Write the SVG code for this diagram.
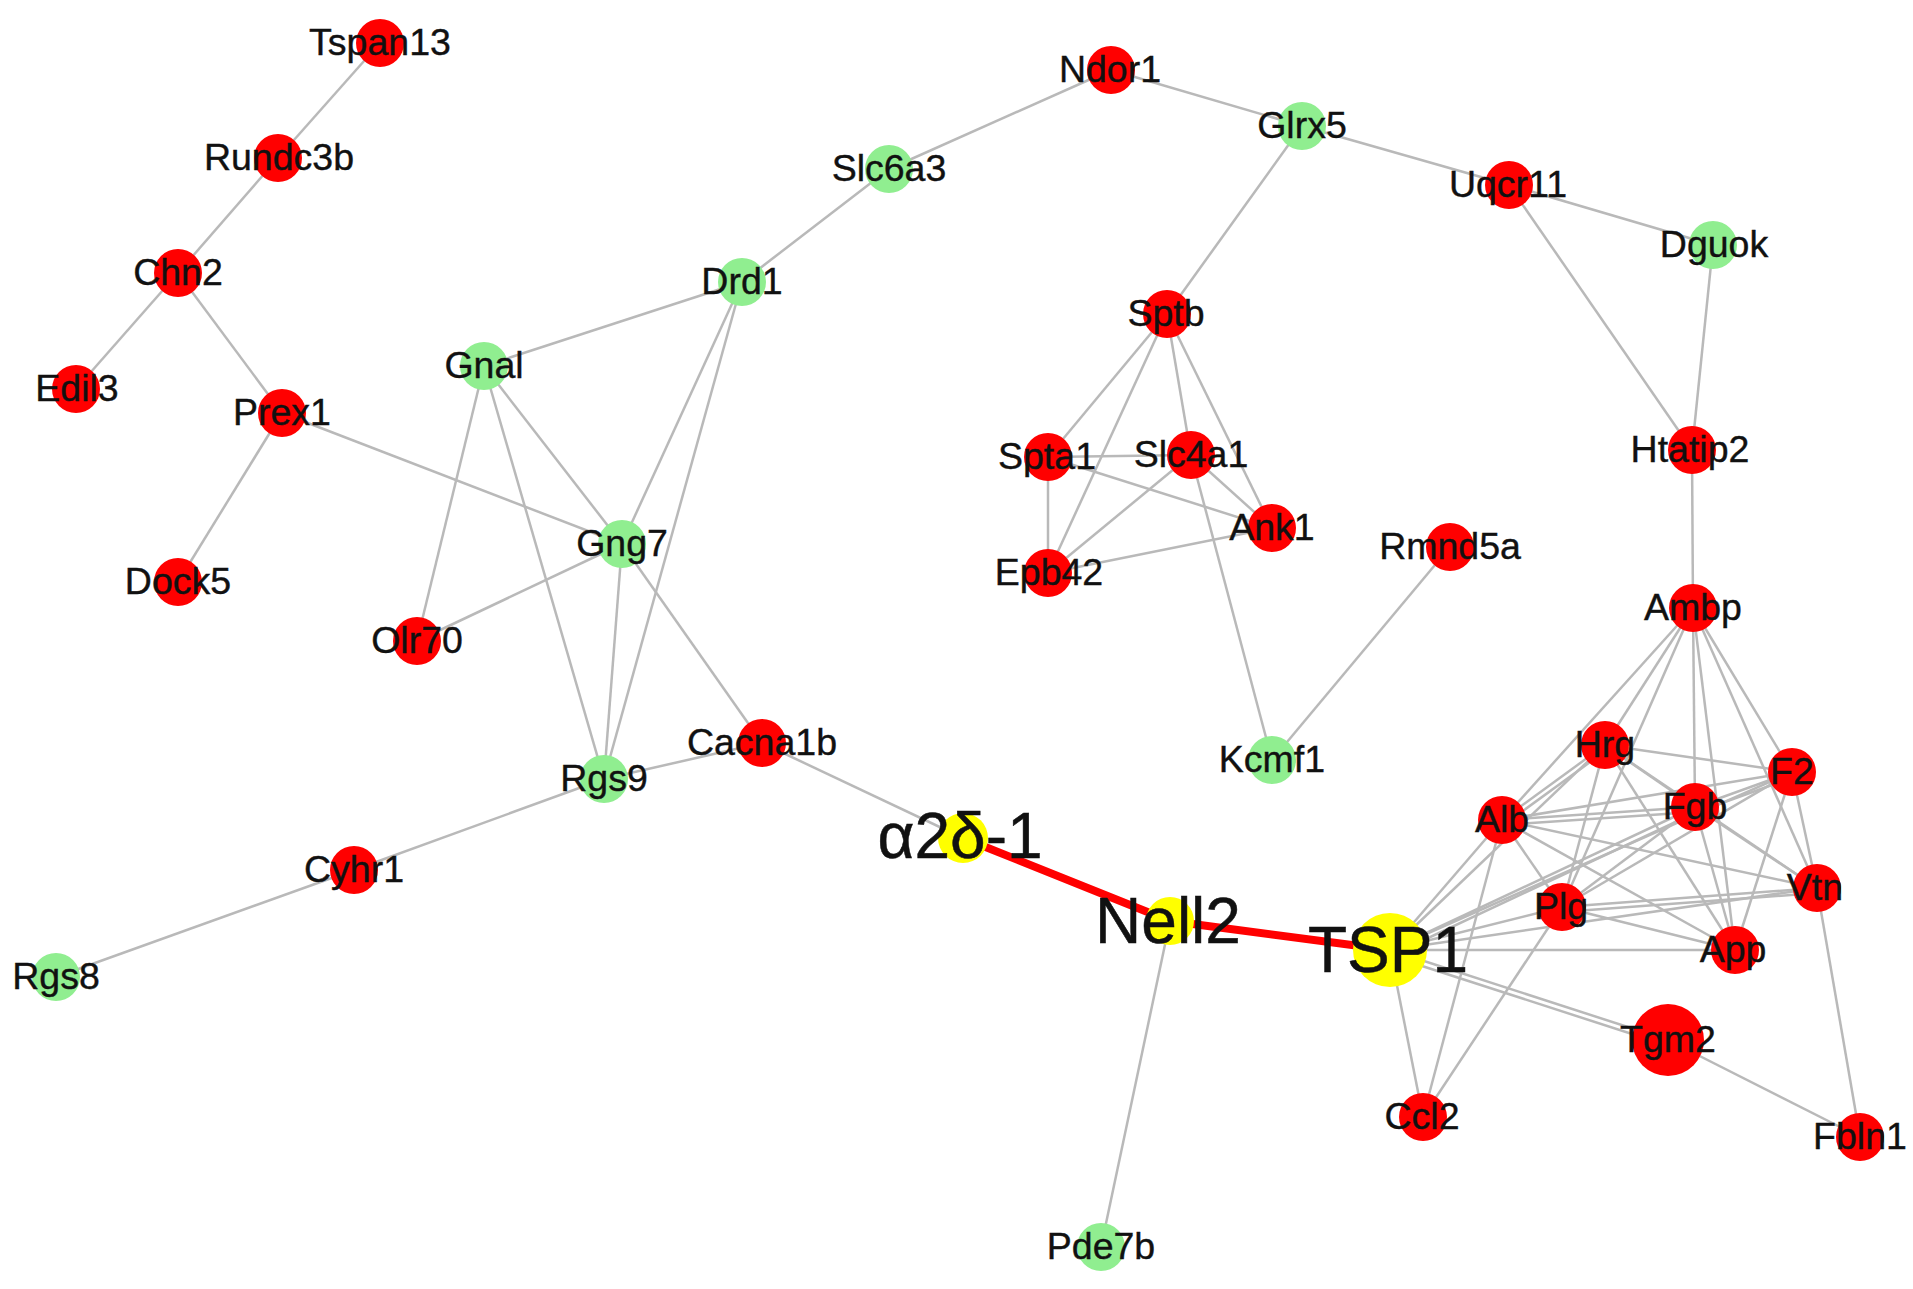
<svg xmlns="http://www.w3.org/2000/svg" width="1913" height="1289" viewBox="0 0 1913 1289">
<style>
.e{stroke:#b9b9b9;stroke-width:2.5;fill:none}
.hl{stroke:#ff0000;stroke-width:8;fill:none;stroke-linecap:round}
.r{fill:#ff0000}
.g{fill:#90ee90}
.y{fill:#ffff00}
text{font-family:"Liberation Sans",Arial,sans-serif;font-size:37.5px;fill:#111;stroke:#111;stroke-width:0.4;text-anchor:middle}
text.big{font-size:64px;stroke-width:0.5}
</style>
<rect width="1913" height="1289" fill="#ffffff"/>
<g id="connectors">
<line class="e" x1="380" y1="43" x2="278" y2="158"/>
<line class="e" x1="278" y1="158" x2="178" y2="273"/>
<line class="e" x1="178" y1="273" x2="76" y2="389"/>
<line class="e" x1="178" y1="273" x2="282" y2="413"/>
<line class="e" x1="282" y1="413" x2="178" y2="582"/>
<line class="e" x1="282" y1="413" x2="622" y2="544"/>
<line class="e" x1="484" y1="366" x2="742" y2="282"/>
<line class="e" x1="484" y1="366" x2="417" y2="641"/>
<line class="e" x1="484" y1="366" x2="622" y2="544"/>
<line class="e" x1="484" y1="366" x2="604" y2="779"/>
<line class="e" x1="742" y1="282" x2="889" y2="169"/>
<line class="e" x1="889" y1="169" x2="1111" y2="70"/>
<line class="e" x1="1111" y1="70" x2="1302" y2="126"/>
<line class="e" x1="1302" y1="126" x2="1509" y2="185"/>
<line class="e" x1="1302" y1="126" x2="1167" y2="314"/>
<line class="e" x1="1509" y1="185" x2="1713" y2="245"/>
<line class="e" x1="1509" y1="185" x2="1692" y2="450"/>
<line class="e" x1="1713" y1="245" x2="1692" y2="450"/>
<line class="e" x1="1692" y1="450" x2="1693" y2="608"/>
<line class="e" x1="742" y1="282" x2="622" y2="544"/>
<line class="e" x1="742" y1="282" x2="604" y2="779"/>
<line class="e" x1="622" y1="544" x2="417" y2="641"/>
<line class="e" x1="622" y1="544" x2="604" y2="779"/>
<line class="e" x1="622" y1="544" x2="762" y2="743"/>
<line class="e" x1="604" y1="779" x2="762" y2="743"/>
<line class="e" x1="604" y1="779" x2="354" y2="870"/>
<line class="e" x1="354" y1="870" x2="56" y2="977"/>
<line class="e" x1="762" y1="743" x2="963" y2="838"/>
<line class="e" x1="1170" y1="921" x2="1101" y2="1247"/>
<line class="e" x1="1167" y1="314" x2="1048" y2="457"/>
<line class="e" x1="1167" y1="314" x2="1191" y2="455"/>
<line class="e" x1="1167" y1="314" x2="1272" y2="528"/>
<line class="e" x1="1167" y1="314" x2="1048" y2="573"/>
<line class="e" x1="1048" y1="457" x2="1191" y2="455"/>
<line class="e" x1="1048" y1="457" x2="1048" y2="573"/>
<line class="e" x1="1048" y1="457" x2="1272" y2="528"/>
<line class="e" x1="1191" y1="455" x2="1048" y2="573"/>
<line class="e" x1="1191" y1="455" x2="1272" y2="528"/>
<line class="e" x1="1048" y1="573" x2="1272" y2="528"/>
<line class="e" x1="1191" y1="455" x2="1272" y2="760"/>
<line class="e" x1="1272" y1="760" x2="1450" y2="547"/>
<line class="e" x1="1693" y1="608" x2="1605" y2="745"/>
<line class="e" x1="1693" y1="608" x2="1502" y2="820"/>
<line class="e" x1="1693" y1="608" x2="1562" y2="907"/>
<line class="e" x1="1693" y1="608" x2="1695" y2="807"/>
<line class="e" x1="1693" y1="608" x2="1735" y2="950"/>
<line class="e" x1="1693" y1="608" x2="1792" y2="772"/>
<line class="e" x1="1693" y1="608" x2="1817" y2="888"/>
<line class="e" x1="1605" y1="745" x2="1502" y2="820"/>
<line class="e" x1="1608" y1="749" x2="1505" y2="824"/>
<line class="e" x1="1605" y1="745" x2="1792" y2="772"/>
<line class="e" x1="1605" y1="745" x2="1695" y2="807"/>
<line class="e" x1="1605" y1="745" x2="1562" y2="907"/>
<line class="e" x1="1605" y1="745" x2="1735" y2="950"/>
<line class="e" x1="1605" y1="745" x2="1390" y2="950"/>
<line class="e" x1="1605" y1="745" x2="1817" y2="888"/>
<line class="e" x1="1502" y1="820" x2="1695" y2="807"/>
<line class="e" x1="1502" y1="825" x2="1695" y2="812"/>
<line class="e" x1="1502" y1="820" x2="1792" y2="772"/>
<line class="e" x1="1502" y1="820" x2="1817" y2="888"/>
<line class="e" x1="1502" y1="820" x2="1735" y2="950"/>
<line class="e" x1="1502" y1="820" x2="1562" y2="907"/>
<line class="e" x1="1502" y1="820" x2="1390" y2="950"/>
<line class="e" x1="1502" y1="820" x2="1423" y2="1117"/>
<line class="e" x1="1695" y1="807" x2="1792" y2="772"/>
<line class="e" x1="1697" y1="812" x2="1794" y2="777"/>
<line class="e" x1="1695" y1="807" x2="1562" y2="907"/>
<line class="e" x1="1695" y1="807" x2="1390" y2="950"/>
<line class="e" x1="1697" y1="812" x2="1392" y2="955"/>
<line class="e" x1="1695" y1="807" x2="1735" y2="950"/>
<line class="e" x1="1695" y1="807" x2="1817" y2="888"/>
<line class="e" x1="1792" y1="772" x2="1562" y2="907"/>
<line class="e" x1="1792" y1="772" x2="1390" y2="950"/>
<line class="e" x1="1792" y1="772" x2="1817" y2="888"/>
<line class="e" x1="1792" y1="772" x2="1735" y2="950"/>
<line class="e" x1="1562" y1="907" x2="1817" y2="888"/>
<line class="e" x1="1562" y1="912" x2="1817" y2="893"/>
<line class="e" x1="1562" y1="907" x2="1735" y2="950"/>
<line class="e" x1="1562" y1="907" x2="1390" y2="950"/>
<line class="e" x1="1562" y1="907" x2="1423" y2="1117"/>
<line class="e" x1="1817" y1="888" x2="1390" y2="950"/>
<line class="e" x1="1817" y1="888" x2="1860" y2="1137"/>
<line class="e" x1="1735" y1="950" x2="1390" y2="950"/>
<line class="e" x1="1390" y1="950" x2="1668" y2="1040"/>
<line class="e" x1="1388" y1="955" x2="1666" y2="1045"/>
<line class="e" x1="1390" y1="950" x2="1423" y2="1117"/>
<line class="e" x1="1668" y1="1040" x2="1860" y2="1137"/>
<line class="hl" x1="963" y1="838" x2="1170" y2="921"/>
<line class="hl" x1="1170" y1="921" x2="1390" y2="950"/>
</g>
<g id="node-Tspan13"><circle class="r" cx="380" cy="43" r="24"/><text x="380" y="55">Tspan13</text></g>
<g id="node-Rundc3b"><circle class="r" cx="278" cy="158" r="24"/><text x="279" y="170">Rundc3b</text></g>
<g id="node-Chn2"><circle class="r" cx="178" cy="273" r="24"/><text x="178" y="285">Chn2</text></g>
<g id="node-Edil3"><circle class="r" cx="76" cy="389" r="24"/><text x="77" y="401">Edil3</text></g>
<g id="node-Prex1"><circle class="r" cx="282" cy="413" r="24"/><text x="282" y="425">Prex1</text></g>
<g id="node-Dock5"><circle class="r" cx="178" cy="582" r="24"/><text x="178" y="594">Dock5</text></g>
<g id="node-Gnal"><circle class="g" cx="484" cy="366" r="24"/><text x="484" y="378">Gnal</text></g>
<g id="node-Drd1"><circle class="g" cx="742" cy="282" r="24"/><text x="742" y="294">Drd1</text></g>
<g id="node-Slc6a3"><circle class="g" cx="889" cy="169" r="24"/><text x="889" y="181">Slc6a3</text></g>
<g id="node-Ndor1"><circle class="r" cx="1111" cy="70" r="24"/><text x="1110" y="82">Ndor1</text></g>
<g id="node-Glrx5"><circle class="g" cx="1302" cy="126" r="24"/><text x="1302" y="138">Glrx5</text></g>
<g id="node-Uqcr11"><circle class="r" cx="1509" cy="185" r="24"/><text x="1508" y="197">Uqcr11</text></g>
<g id="node-Dguok"><circle class="g" cx="1713" cy="245" r="24"/><text x="1714" y="257">Dguok</text></g>
<g id="node-Sptb"><circle class="r" cx="1167" cy="314" r="24"/><text x="1166" y="326">Sptb</text></g>
<g id="node-Spta1"><circle class="r" cx="1048" cy="457" r="24"/><text x="1047" y="469">Spta1</text></g>
<g id="node-Slc4a1"><circle class="r" cx="1191" cy="455" r="24"/><text x="1191" y="467">Slc4a1</text></g>
<g id="node-Ank1"><circle class="r" cx="1272" cy="528" r="24"/><text x="1272" y="540">Ank1</text></g>
<g id="node-Epb42"><circle class="r" cx="1048" cy="573" r="24"/><text x="1049" y="585">Epb42</text></g>
<g id="node-Rmnd5a"><circle class="r" cx="1450" cy="547" r="24"/><text x="1450" y="559">Rmnd5a</text></g>
<g id="node-Kcmf1"><circle class="g" cx="1272" cy="760" r="24"/><text x="1272" y="772">Kcmf1</text></g>
<g id="node-Htatip2"><circle class="r" cx="1692" cy="450" r="24"/><text x="1690" y="462">Htatip2</text></g>
<g id="node-Ambp"><circle class="r" cx="1693" cy="608" r="24"/><text x="1693" y="620">Ambp</text></g>
<g id="node-Gng7"><circle class="g" cx="622" cy="544" r="24"/><text x="622" y="556">Gng7</text></g>
<g id="node-Olr70"><circle class="r" cx="417" cy="641" r="24"/><text x="417" y="653">Olr70</text></g>
<g id="node-Rgs9"><circle class="g" cx="604" cy="779" r="24"/><text x="604" y="791">Rgs9</text></g>
<g id="node-Cacna1b"><circle class="r" cx="762" cy="743" r="24"/><text x="762" y="755">Cacna1b</text></g>
<g id="node-Cyhr1"><circle class="r" cx="354" cy="870" r="24"/><text x="354" y="882">Cyhr1</text></g>
<g id="node-Rgs8"><circle class="g" cx="56" cy="977" r="24"/><text x="56" y="989">Rgs8</text></g>
<g id="node-a2d1"><circle class="y" cx="963" cy="838" r="25"/><text class="big" x="960" y="858">α2δ-1</text></g>
<g id="node-Nell2"><circle class="y" cx="1170" cy="921" r="24"/><text class="big" x="1168" y="943">Nell2</text></g>
<g id="node-Pde7b"><circle class="g" cx="1101" cy="1247" r="24"/><text x="1101" y="1259">Pde7b</text></g>
<g id="node-TSP1"><circle class="y" cx="1390" cy="950" r="37"/><text class="big" x="1388" y="972">TSP1</text></g>
<g id="node-Hrg"><circle class="r" cx="1605" cy="745" r="24"/><text x="1605" y="757">Hrg</text></g>
<g id="node-F2"><circle class="r" cx="1792" cy="772" r="24"/><text x="1792" y="784">F2</text></g>
<g id="node-Fgb"><circle class="r" cx="1695" cy="807" r="24"/><text x="1695" y="819">Fgb</text></g>
<g id="node-Alb"><circle class="r" cx="1502" cy="820" r="24"/><text x="1502" y="832">Alb</text></g>
<g id="node-Plg"><circle class="r" cx="1562" cy="907" r="24"/><text x="1561" y="919">Plg</text></g>
<g id="node-Vtn"><circle class="r" cx="1817" cy="888" r="24"/><text x="1815" y="900">Vtn</text></g>
<g id="node-App"><circle class="r" cx="1735" cy="950" r="24"/><text x="1733" y="962">App</text></g>
<g id="node-Tgm2"><circle class="r" cx="1668" cy="1040" r="36"/><text x="1668" y="1052">Tgm2</text></g>
<g id="node-Ccl2"><circle class="r" cx="1423" cy="1117" r="24"/><text x="1422" y="1129">Ccl2</text></g>
<g id="node-Fbln1"><circle class="r" cx="1860" cy="1137" r="24"/><text x="1860" y="1149">Fbln1</text></g>
</svg>
